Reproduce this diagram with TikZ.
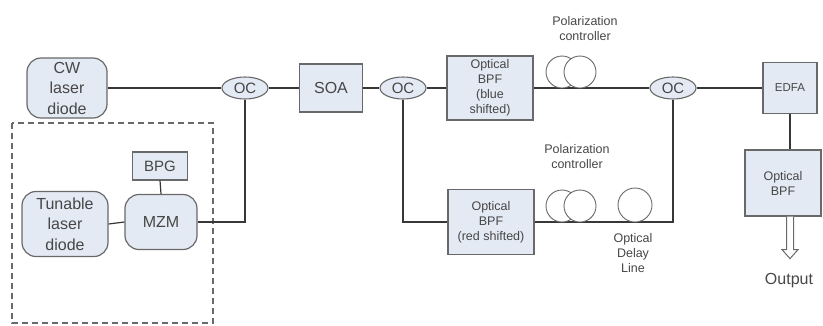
\documentclass[tikz,border=0pt]{standalone}
\usepackage{fontspec}
\setmainfont{Liberation Sans}
\usetikzlibrary{positioning, shapes.geometric, arrows.meta}
\definecolor{boxFill}{RGB}{228,234,244}
\definecolor{edgeGrey}{RGB}{105,105,105}
\definecolor{fibreGrey}{RGB}{55,55,55}
\definecolor{textGrey}{RGB}{70,70,70}

\begin{document}
\begin{tikzpicture}[
  x=1pt, y=-1pt,
  block/.style={draw=edgeGrey, fill=boxFill, line width=1.2pt, inner sep=0pt, align=center, text=textGrey},
  source/.style={block, rounded corners=14pt},
  coupler/.style={ellipse, draw=edgeGrey, fill=boxFill, line width=1.1pt, minimum width=46pt, minimum height=22pt, inner sep=0pt, text=textGrey, font=\fontsize{15}{15}\selectfont},
  fibreloop/.style={circle, draw=edgeGrey, fill=white, line width=0.9pt, minimum size=32pt, inner sep=0pt},
  fibre/.style={draw=fibreGrey, line width=1.2pt},
  bigtxt/.style={font=\fontsize{16}{20.5}\selectfont},
  smalltxt/.style={font=\fontsize{12.5}{15}\selectfont},
  note/.style={smalltxt, text=textGrey, align=center, inner sep=0pt},
]
% Canvas in pixels of the reference (823 x 325)
\useasboundingbox (0,0) rectangle (823,325);
\def\topY{88}     % upper fibre row
\def\botY{222}    % lower fibre row

% Modulated source frame
\draw[draw=edgeGrey, line width=1.2pt, dash pattern=on 6pt off 4pt] (12,123) rectangle (213,323);

% Sources
\node[source, bigtxt, minimum width=80pt, minimum height=60pt] (cw) at (67,\topY) {CW\\laser\\diode};
\node[source, bigtxt, minimum width=86pt, minimum height=65pt] (tld) at (65,224) {Tunable\\laser\\diode};
\node[source, bigtxt, minimum width=72pt, minimum height=55pt] (mzm) at (161,\botY) {MZM};
\node[block, font=\fontsize{15}{15}\selectfont, minimum width=55pt, minimum height=28pt] (bpg) at (160,166) {BPG};

% Upper row
\node[coupler] (oc1) at (245,\topY) {OC};
\node[block, bigtxt, minimum width=63pt, minimum height=48pt] (soa) at (331,\topY) {SOA};
\node[coupler] (oc2) at (403,\topY) {OC};
\node[block, smalltxt, minimum width=86pt, minimum height=64pt] (bpfb) at (490,\topY) {Optical\\BPF\\(blue\\shifted)};
\node[coupler] (oc3) at (673,\topY) {OC};
\node[block, font=\fontsize{11.5}{11.5}\selectfont, minimum width=54pt, minimum height=51pt] (edfa) at (790,\topY) {EDFA};

% Lower row
\node[block, smalltxt, minimum width=86pt, minimum height=65pt] (bpfr) at (491,\botY) {Optical\\BPF\\(red shifted)};

% Output filter
\node[block, smalltxt, minimum width=76pt, minimum height=66pt] (bpfo) at (783,183) {Optical\\BPF};
\node[bigtxt, text=textGrey, inner sep=0pt] (out) at (789,281) {Output};

% Fibre connections
\draw[fibre, line width=2pt] (cw.east) -- (oc1.west);
\draw[fibre] (tld.east) -- (mzm.west);
\draw[fibre] (bpg.south) -- (mzm.north);
\draw[fibre] (mzm.east) -| (oc1.south);
\draw[fibre] (oc1.east) -- (soa.west);
\draw[fibre] (soa.east) -- (oc2.west);
\draw[fibre] (oc2.east) -- (bpfb.west);
\draw[fibre] (bpfb.east) -- (oc3.west);
\draw[fibre] (oc2.south) |- (bpfr.west);
\draw[fibre] (bpfr.east) -| (oc3.south);
\draw[fibre] (oc3.east) -- (edfa.west);
\draw[fibre] (edfa.south) -- (edfa.south |- bpfo.north);

% Hollow output arrow
\coordinate (arrTop) at (bpfo.south -| edfa.south);
\draw[edgeGrey, line width=1pt, fill=white, line join=miter]
  (arrTop) ++(-3.5,0) -- ++(0,33) -- ++(-4.5,0) -- ++(8,9) -- ++(8,-9) -- ++(-4.5,0) -- ++(0,-33);

% Polarization controllers and delay line (fibre loops)
\node[fibreloop] (pcA1) at (562,\topY-16) {};
\node[fibreloop] (pcA2) at (580,\topY-16) {};
\node[fibreloop] (pcB1) at (562,\botY-16) {};
\node[fibreloop] (pcB2) at (580,\botY-16) {};
\node[fibreloop, minimum size=34pt] (odl) at (635,\botY-17) {};

% Labels
\node[note] (pcAlab) at (585,29) {Polarization\\controller};
\node[note] (pcBlab) at (577,157) {Polarization\\controller};
\node[note] (odllab) at (633,253) {Optical\\Delay\\Line};

\end{tikzpicture}
\end{document}
